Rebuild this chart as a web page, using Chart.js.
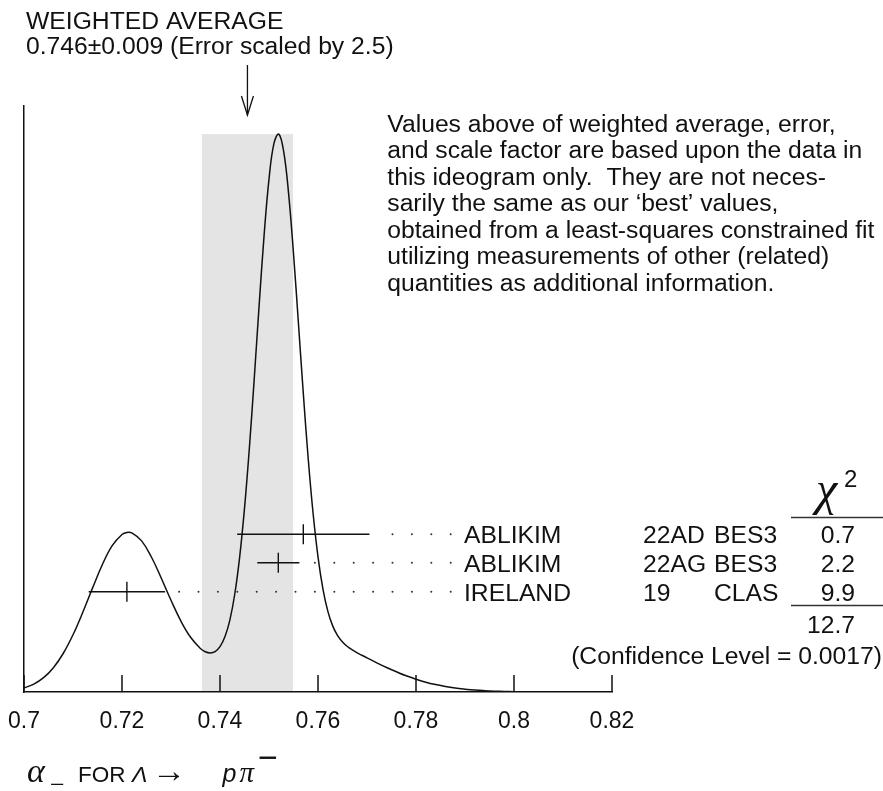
<!DOCTYPE html>
<html><head><meta charset="utf-8">
<script src="https://cdn.jsdelivr.net/npm/chart.js@4"></script>
<style>html,body{margin:0;padding:0;background:#fff}canvas{display:block}</style>
</head><body>
<canvas id="c" width="883" height="791"></canvas>
<script>
// ---- data ----
const curveX = [0.700,0.702,0.704,0.706,0.708,0.710,0.712,0.714,0.716,0.718,0.720,0.721,0.722,0.724,0.726,0.728,0.730,0.732,0.734,0.736,
  0.737,0.738,0.739,0.740,0.741,0.742,0.743,0.744,0.745,0.746,0.747,0.748,0.749,0.750,0.751,0.752,0.753,0.754,0.755,0.756,0.757,
  0.758,0.759,0.760,0.761,0.762,0.763,0.764,0.765,0.766,0.767,0.768,0.770,0.772,0.774,0.776,0.778,0.780,0.782,0.784,0.786,0.788,
  0.790,0.792,0.794,0.796,0.798,0.800,0.804,0.808,0.812,0.816,0.820];
const curveY = [4.1,7.9,14.3,24.3,38.5,57.2,79.7,104.1,127.5,146.3,157.5,159.6,159.1,151.1,135.0,114.0,91.7,71.1,54.7,43.5,
  40.3,39.1,40.4,45.3,55.2,71.7,97.5,134.4,183.6,244.4,314.3,387.6,456.7,512.8,548.4,557.9,540.3,498.4,438.5,369.2,298.6,
  233.5,178.5,135.2,103.2,80.9,66.1,56.3,50.0,45.5,42.1,39.2,34.2,29.2,24.5,20.2,16.2,12.8,9.8,7.4,5.4,3.9,
  2.8,1.9,1.3,0.85,0.55,0.35,0.13,0.04,0.01,0,0];
const measNames  = ['ABLIKIM','ABLIKIM','IRELAND'];
const measRefs   = ['22AD','22AG','19'];
const measExps   = ['BES3','BES3','CLAS'];
const measValues = [0.757, 0.7519, 0.721];
const measErrors = [0.0135, 0.0043, 0.0078];
const measLevels = [157.7, 129.3, 100.3];
const chi2Values = ['0.7','2.2','9.9'];
const chi2Total  = '12.7';
const confLevel  = '(Confidence Level = 0.0017)';
const avgValue = 0.7456;
const avgError = 0.0093;
const titleLines = ['WEIGHTED AVERAGE', '0.746\u00b10.009 (Error scaled by 2.5)'];
const noteLines = [
  'Values above of weighted average, error,',
  'and scale factor are based upon the data in',
  'this ideogram only.  They are not neces-',
  'sarily the same as our \u2018best\u2019 values,',
  'obtained from a least-squares constrained fit',
  'utilizing measurements of other (related)',
  'quantities as additional information.'
];
const tickValues = [0.7, 0.72, 0.74, 0.76, 0.78, 0.8, 0.82];
const tickLabels = ['0.7','0.72','0.74','0.76','0.78','0.8','0.82'];

const SANS = "'Liberation Sans', Arial, Helvetica, sans-serif";
const SERIF = "'Liberation Serif', 'Times New Roman', serif";
const INK = '#111';
const FS = '24.7px ';

const ideogram = {
  id: 'ideogram',
  beforeDatasetsDraw(chart) {
    const {ctx, scales: {x, y}, chartArea} = chart;
    const top = y.getPixelForValue(Math.max(...curveY));
    const l = x.getPixelForValue(avgValue - avgError);
    const r = x.getPixelForValue(avgValue + avgError);
    ctx.save();
    ctx.fillStyle = '#e4e4e4';
    ctx.fillRect(l, top, r - l, chartArea.bottom - 1 - top);
    ctx.restore();
  },
  afterDraw(chart) {
    const {ctx, scales: {x, y}, chartArea} = chart;
    ctx.save();
    // inward tick marks
    ctx.strokeStyle = INK; ctx.lineWidth = 1.5;
    x.ticks.forEach(t => {
      const px = x.getPixelForValue(t.value);
      ctx.beginPath(); ctx.moveTo(px, chartArea.bottom); ctx.lineTo(px, chartArea.bottom - 17); ctx.stroke();
    });
    // dotted leaders
    const labelX = 464;
    ctx.fillStyle = '#333';
    measValues.forEach((v, i) => {
      const py = y.getPixelForValue(measLevels[i]);
      const end = x.getPixelForValue(v + measErrors[i]);
      for (let dx = labelX - 13.3; dx > end + 10; dx -= 19.4) {
        ctx.beginPath(); ctx.arc(dx, py, 1, 0, Math.PI * 2); ctx.fill();
      }
    });
    // table text
    ctx.fillStyle = INK;
    ctx.font = FS + SANS;
    ctx.textBaseline = 'alphabetic';
    measValues.forEach((v, i) => {
      const py = y.getPixelForValue(measLevels[i]) + 9;
      ctx.textAlign = 'left';
      ctx.fillText(measNames[i], labelX, py);
      ctx.fillText(measRefs[i], 643, py);
      ctx.fillText(measExps[i], 714, py);
      ctx.textAlign = 'right';
      ctx.fillText(chi2Values[i], 855, py);
    });
    ctx.textAlign = 'right';
    ctx.fillText(chi2Total, 855, 633);
    ctx.fillText(confLevel, 882, 664);
    // chi^2 header and rules
    ctx.textAlign = 'left';
    ctx.font = 'italic 48px ' + SERIF;
    ctx.fillText('\u03c7', 816, 505);
    ctx.font = '24px ' + SANS;
    ctx.fillText('2', 844, 487);
    ctx.strokeStyle = '#333'; ctx.lineWidth = 1.5;
    ctx.beginPath(); ctx.moveTo(791, 517.5); ctx.lineTo(883, 517.5); ctx.stroke();
    ctx.beginPath(); ctx.moveTo(791, 605.5); ctx.lineTo(883, 605.5); ctx.stroke();
    // title
    ctx.font = FS + SANS;
    ctx.fillStyle = INK;
    ctx.fillText(titleLines[0], 26, 29.3);
    ctx.fillText(titleLines[1], 26, 54.3);
    // arrow
    const ax = x.getPixelForValue(avgValue);
    ctx.strokeStyle = INK; ctx.lineWidth = 1.3;
    ctx.beginPath(); ctx.moveTo(ax, 65); ctx.lineTo(ax, 115); ctx.stroke();
    ctx.beginPath(); ctx.moveTo(ax - 6, 96); ctx.lineTo(ax, 115); ctx.lineTo(ax + 6, 96); ctx.stroke();
    // note
    noteLines.forEach((s, i) => ctx.fillText(s, 387.3, 131.7 + 26.5 * i));
    // axis title
    const by = 781.7;
    ctx.font = 'italic 34px ' + SERIF; ctx.fillText('\u03b1', 27, by);
    ctx.font = '26px ' + SERIF; ctx.fillText('\u2212', 50, by + 11);
    ctx.font = '22.5px ' + SANS; ctx.fillText('FOR', 78, by);
    ctx.font = 'italic 23px ' + SANS; ctx.fillText('\u039b', 132, by);
    ctx.font = '34px ' + SERIF; ctx.fillText('\u2192', 152, by);
    ctx.font = 'italic 25px ' + SANS; ctx.fillText('p', 222.5, by);
    ctx.font = 'italic 29px ' + SERIF; ctx.fillText('\u03c0', 239.5, by);
    ctx.font = '34px ' + SANS; ctx.fillText('\u2212', 258, by - 13);
    ctx.restore();
  }
};

const datasets = [{
  type: 'line',
  data: curveX.map((v, i) => ({x: v, y: curveY[i]})),
  borderColor: INK, borderWidth: 1.5, pointRadius: 0,
  tension: 0.4, fill: false, order: 2
}];
measValues.forEach((v, i) => {
  datasets.push({
    type: 'line',
    data: [{x: v - measErrors[i], y: measLevels[i]}, {x: v + measErrors[i], y: measLevels[i]}],
    borderColor: INK, borderWidth: 1.4, pointRadius: 0, order: 1
  });
});
datasets.push({
  type: 'scatter',
  data: measValues.map((v, i) => ({x: v, y: measLevels[i]})),
  pointStyle: 'line', rotation: 90, radius: 10, pointRadius: 10,
  borderColor: INK, borderWidth: 1.4, backgroundColor: INK, order: 0
});

new Chart(document.getElementById('c'), {
  data: {datasets},
  options: {
    responsive: false, animation: false, devicePixelRatio: 1,
    layout: {autoPadding: false, padding: {left: 24, right: 271, top: 106, bottom: 39}},
    plugins: {legend: {display: false}, tooltip: {enabled: false}},
    scales: {
      x: {
        type: 'linear', min: 0.7, max: 0.82,
        afterBuildTicks: s => { s.ticks = tickValues.map(v => ({value: v})); },
        afterFit: s => { s.height = 60; },
        grid: {display: false},
        border: {display: true, color: INK, width: 1.5},
        ticks: {
          color: INK, padding: 0, maxRotation: 0, autoSkip: false,
          font: {family: SANS, size: 23, lineHeight: 1.9},
          callback: (val, idx) => tickLabels[idx]
        }
      },
      y: {
        type: 'linear', min: 0, max: 586,
        afterFit: s => { s.width = 0; },
        grid: {display: false},
        border: {display: true, color: INK, width: 1.5},
        ticks: {display: false}
      }
    }
  },
  plugins: [ideogram]
});
</script>
</body></html>
